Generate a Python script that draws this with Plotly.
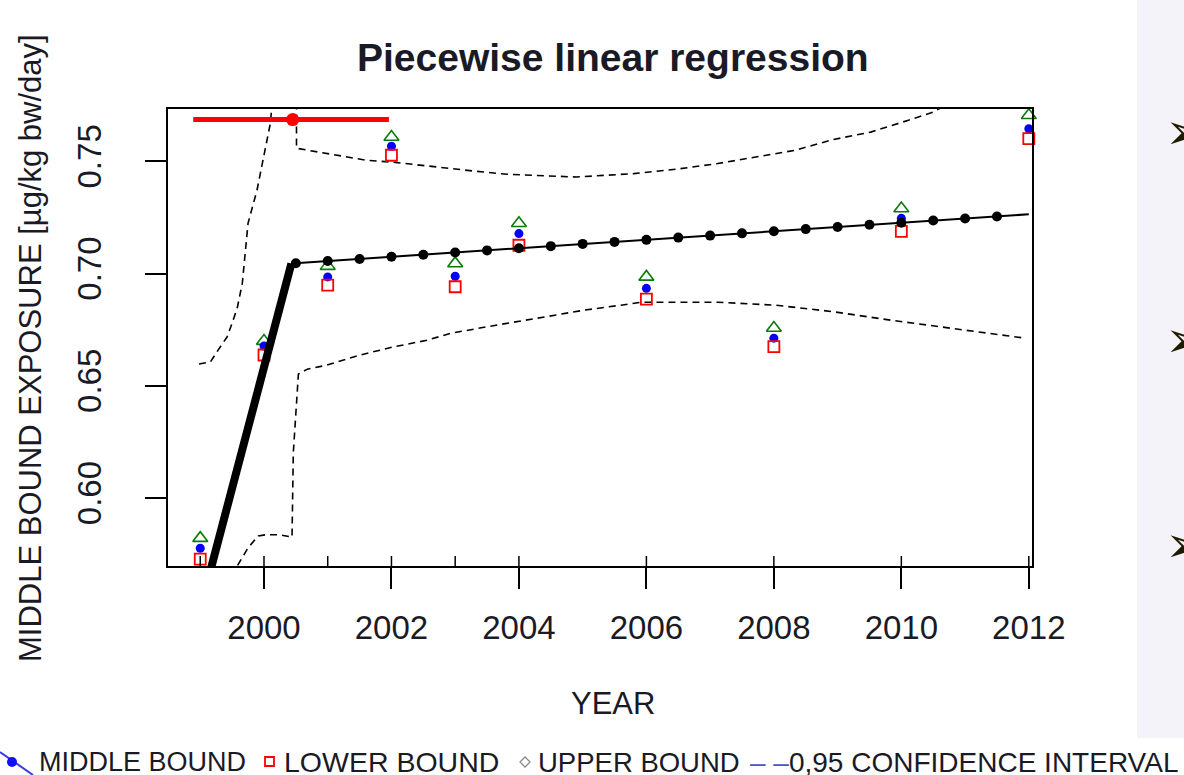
import plotly.graph_objects as go

# ---------------- data ----------------
years = [1999, 2000, 2001, 2002, 2003, 2004, 2006, 2008, 2010, 2012]
middle_bound = [0.5776, 0.6677, 0.6985, 0.7567, 0.6988, 0.7178, 0.6934, 0.6712, 0.7246, 0.7645]
lower_bound = [0.5728, 0.6637, 0.6948, 0.7527, 0.6941, 0.7126, 0.6886, 0.6674, 0.7188, 0.7601]
upper_bound = [0.5821, 0.6699, 0.7033, 0.7608, 0.7045, 0.7224, 0.6985, 0.6757, 0.7290, 0.7705]

# fitted piecewise-linear model
fit_seg1_x = [1999.0, 2000.43]
fit_seg1_y = [0.5505, 0.7045]
fit_seg2_x = [2000.43, 2012.0]
fit_seg2_y = [0.7045, 0.7264]
bead_x = [2000.5, 2001.0, 2001.5, 2002.0, 2002.5, 2003.0, 2003.5, 2004.0, 2004.5, 2005.0,
          2005.5, 2006.0, 2006.5, 2007.0, 2007.5, 2008.0, 2008.5, 2009.0, 2009.5, 2010.0,
          2010.5, 2011.0, 2011.5]
bead_y = [0.7046, 0.7056, 0.7065, 0.7075, 0.7084, 0.7094, 0.7103, 0.7113, 0.7122, 0.7132,
          0.7141, 0.7150, 0.7160, 0.7169, 0.7179, 0.7188, 0.7198, 0.7207, 0.7217, 0.7226,
          0.7236, 0.7245, 0.7254]

# 0.95 confidence interval
ci_upper_x = [1998.98, 1999.16, 1999.28, 1999.42, 1999.50, 1999.58, 1999.66, 1999.75, 1999.89,
              1999.99, 2000.10, 2000.20, 2000.51, 2000.51, 2000.69, 2000.99, 2001.31, 2001.62,
              2002.03, 2002.92, 2003.28, 2003.82, 2004.60, 2004.90, 2005.80, 2006.53, 2007.12,
              2007.74, 2008.33, 2008.93, 2009.52, 2010.10, 2010.50, 2011.00]
ci_upper_y = [0.6597, 0.6606, 0.6659, 0.6717, 0.6779, 0.6846, 0.6957, 0.7224, 0.7371,
              0.7518, 0.7669, 0.8000, 0.8000, 0.7558, 0.7549, 0.7536, 0.7518, 0.7504,
              0.7496, 0.7467, 0.7457, 0.7442, 0.7433, 0.7430, 0.7445, 0.7467, 0.7490,
              0.7519, 0.7549, 0.7597, 0.7630, 0.7682, 0.7719, 0.7800]
ci_lower_x = [1999.45, 1999.58, 1999.75, 1999.91, 2000.02, 2000.25, 2000.41, 2000.44, 2000.46,
              2000.54, 2000.68, 2000.99, 2001.51, 2002.03, 2002.56, 2002.92, 2003.50, 2004.43,
              2005.03, 2005.60, 2005.92, 2006.53, 2007.12, 2008.03, 2008.93, 2009.84, 2010.73,
              2011.94]
ci_lower_y = [0.5600, 0.5697, 0.5778, 0.5831, 0.5836, 0.5836, 0.5827, 0.5825, 0.6201,
              0.6552, 0.6574, 0.6592, 0.6637, 0.6673, 0.6703, 0.6733, 0.6763, 0.6807,
              0.6837, 0.6859, 0.6872, 0.6872, 0.6872, 0.6859, 0.6830, 0.6792, 0.6757,
              0.6712]

# breakpoint estimate and its confidence interval
bp_estimate = [2000.45]
bp_ci = [1998.89, 2001.96]
bp_level = [0.7686]

x_ticks = [2000, 2002, 2004, 2006, 2008, 2010, 2012]
y_ticks = [0.60, 0.65, 0.70, 0.75]
y_ticktext = ["0.60", "0.65", "0.70", "0.75"]
x_range = [1998.494, 2012.05]
y_range = [0.5697, 0.7733]

title_text = "Piecewise linear regression"
x_title = "YEAR"
y_title = "MIDDLE BOUND EXPOSURE [µg/kg bw/day]"
legend_labels = ["MIDDLE BOUND", "LOWER BOUND", "UPPER BOUND", "0,95 CONFIDENCE INTERVAL"]

# ---------------- layout helpers ----------------
W, H = 1184, 775
L, R, T, B = 168, 1032, 109, 566   # plot box in page pixels
FONT = "Liberation Sans, Arial, sans-serif"
TXT = "#1a1a26"


def px(xp):
    return (xp - L) / (R - L)


def py(yp):
    return (B - yp) / (B - T)


fig = go.Figure()

# confidence interval
for cx, cy in ((ci_upper_x, ci_upper_y), (ci_lower_x, ci_lower_y)):
    fig.add_trace(go.Scatter(x=cx, y=cy, mode="lines",
                             line=dict(color="black", width=1.6, dash="7px,5px"),
                             hoverinfo="skip", showlegend=False))

# breakpoint CI
fig.add_trace(go.Scatter(x=bp_ci, y=bp_level * 2, mode="lines",
                         line=dict(color="#ff0000", width=5), showlegend=False))
fig.add_trace(go.Scatter(x=bp_estimate, y=bp_level, mode="markers",
                         marker=dict(color="#ff0000", size=13, symbol="circle"),
                         cliponaxis=False, showlegend=False))

# observed bounds
fig.add_trace(go.Scatter(x=years, y=upper_bound, mode="markers", name=legend_labels[2],
                         marker=dict(symbol="triangle-up-open", size=13, color="#0a7a0a",
                                     line=dict(width=1.6, color="#0a7a0a")),
                         cliponaxis=False, showlegend=False))
fig.add_trace(go.Scatter(x=years, y=middle_bound, mode="markers", name=legend_labels[0],
                         marker=dict(symbol="circle", size=9, color="#0000ff"),
                         cliponaxis=False, showlegend=False))
fig.add_trace(go.Scatter(x=years, y=lower_bound, mode="markers", name=legend_labels[1],
                         marker=dict(symbol="square-open", size=11, color="#ff0000",
                                     line=dict(width=1.8, color="#ff0000")),
                         cliponaxis=False, showlegend=False))

# fitted line
fig.add_trace(go.Scatter(x=fit_seg1_x, y=fit_seg1_y, mode="lines",
                         line=dict(color="black", width=8), showlegend=False))
fig.add_trace(go.Scatter(x=fit_seg2_x, y=fit_seg2_y, mode="lines",
                         line=dict(color="black", width=2), showlegend=False))
fig.add_trace(go.Scatter(x=bead_x, y=bead_y, mode="markers",
                         marker=dict(color="black", size=10, symbol="circle"),
                         showlegend=False))

shapes = []
# rug at observed years
for yr in years:
    shapes.append(dict(type="line", xref="x", yref="paper", x0=yr, x1=yr,
                       y0=0, y1=10 / (B - T), line=dict(color="black", width=1.5)))
# right side panel
shapes.append(dict(type="rect", xref="paper", yref="paper", layer="below",
                   x0=px(1137), x1=px(1190), y0=py(738), y1=py(-5),
                   fillcolor="#f3f3f9", line=dict(width=0)))
# legend symbols
shapes.append(dict(type="line", xref="paper", yref="paper", x0=px(0), y0=py(752),
                   x1=px(33), y1=py(775), line=dict(color="#3a3ae0", width=2)))
shapes.append(dict(type="circle", xref="paper", yref="paper", x0=px(7), x1=px(17),
                   y0=py(767), y1=py(757), fillcolor="#1010ff", line=dict(width=0)))
shapes.append(dict(type="rect", xref="paper", yref="paper", x0=px(265), x1=px(274),
                   y0=py(766), y1=py(757), line=dict(color="#ff0000", width=1.8)))
shapes.append(dict(type="path", xref="paper", yref="paper",
                   path="M {0},{1} L {2},{3} L {0},{4} L {5},{3} Z".format(
                       px(525), py(757), px(530), py(762), py(767), px(520)),
                   line=dict(color="#8a8a8a", width=1.3)))

annotations = [
    dict(text="<b>" + title_text + "</b>", x=px(613), y=py(58), xref="paper", yref="paper",
         showarrow=False, xanchor="center", yanchor="middle",
         font=dict(family=FONT, size=39, color=TXT)),
    dict(text=x_title, x=px(613), y=py(703), xref="paper", yref="paper",
         showarrow=False, xanchor="center", yanchor="middle",
         font=dict(family=FONT, size=31, color=TXT)),
    dict(text=y_title, x=px(30), y=py(348), xref="paper", yref="paper", textangle=-90,
         showarrow=False, xanchor="center", yanchor="middle",
         font=dict(family=FONT, size=31, color=TXT)),
    dict(text=legend_labels[0], x=px(37), y=py(762), xref="paper", yref="paper",
         showarrow=False, xanchor="left", yanchor="middle",
         font=dict(family=FONT, size=27, color=TXT)),
    dict(text=legend_labels[1], x=px(282), y=py(762), xref="paper", yref="paper",
         showarrow=False, xanchor="left", yanchor="middle",
         font=dict(family=FONT, size=28.5, color=TXT)),
    dict(text=legend_labels[2], x=px(536), y=py(762), xref="paper", yref="paper",
         showarrow=False, xanchor="left", yanchor="middle",
         font=dict(family=FONT, size=27.5, color=TXT)),
    dict(text='<span style="color:#5050c8">– –</span>' + legend_labels[3],
         x=px(748), y=py(762), xref="paper", yref="paper",
         showarrow=False, xanchor="left", yanchor="middle",
         font=dict(family=FONT, size=28, color=TXT)),
]
for yb in (132, 340, 545):
    annotations.append(dict(text="➢", x=px(1163), y=py(yb), xref="paper", yref="paper",
                            showarrow=False, xanchor="left", yanchor="middle",
                            font=dict(family="DejaVu Sans", size=50, color="#1e1a00")))

axis_common = dict(showgrid=False, zeroline=False, showline=True, mirror=True,
                   linecolor="black", linewidth=2, ticks="outside", ticklen=21,
                   tickwidth=1.5, tickcolor="black",
                   tickfont=dict(family=FONT, size=33, color=TXT))

fig.update_layout(
    width=W, height=H,
    margin=dict(l=L, r=W - R, t=T, b=H - B, autoexpand=False),
    paper_bgcolor="white", plot_bgcolor="white",
    xaxis=dict(range=x_range, tickvals=x_ticks, ticklabelstandoff=10, **axis_common),
    yaxis=dict(range=y_range, tickvals=y_ticks, ticktext=y_ticktext, tickangle=-90,
               ticklabelstandoff=31, **axis_common),
    shapes=shapes, annotations=annotations, showlegend=False,
)

fig.write_html(
    "out.html",
    config={"displayModeBar": False},
    post_script="document.body.style.margin='0';document.body.style.overflow='hidden';",
)
